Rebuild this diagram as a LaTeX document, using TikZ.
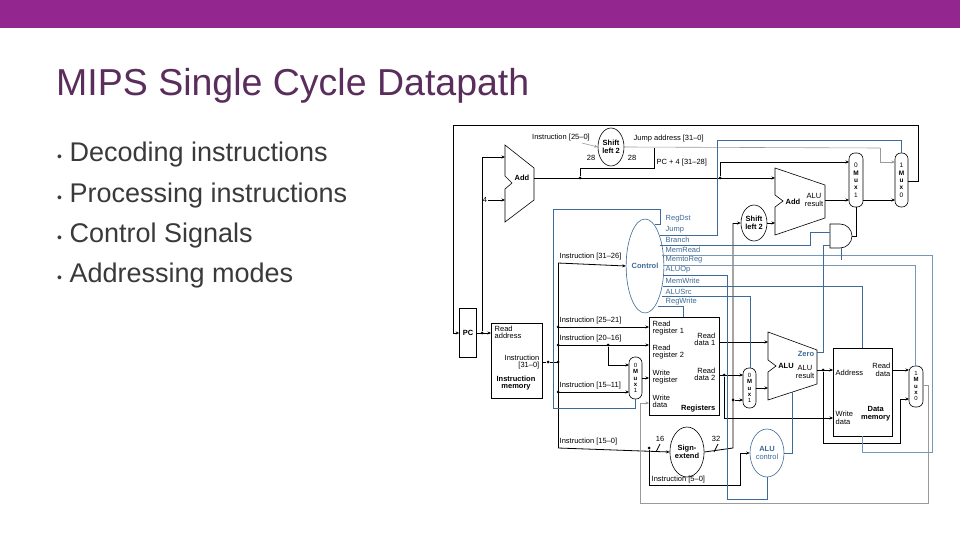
\documentclass[tikz,border=0pt]{standalone}
\usepackage{fontspec}
\setmainfont{Liberation Sans}[Ligatures=TeX]
\newfontfamily\dfont{Liberation Sans}[Ligatures=TeX]
\usetikzlibrary{arrows.meta,shapes.geometric}
\definecolor{barc}{HTML}{93278F}
\definecolor{ttl}{HTML}{5A2D5C}
\definecolor{bul}{HTML}{3A3A3A}
\definecolor{ctl}{HTML}{3E6A98}
\definecolor{gw}{HTML}{9A9A9A}
\tikzset{
 wire/.style={draw=black,line width=0.8pt},
 cwire/.style={draw=ctl,line width=0.9pt},
 gwire/.style={draw=gw,line width=0.6pt},
 arr/.style={-{Stealth[length=3.5pt,width=3pt]}},
 lbl/.style={font=\dfont\fontsize{7.5}{7.8}\selectfont,inner sep=0.5pt,align=left},
 blbl/.style={lbl,font=\dfont\bfseries\fontsize{7.5}{7.8}\selectfont},
 clbl/.style={lbl,text=ctl,anchor=west},
 blk/.style={draw,line width=0.6pt},
 dot/.style={circle,fill,inner sep=0pt,minimum size=3pt},
 bullet/.style={anchor=base west,inner sep=0,text=bul,font=\fontsize{27}{30}\selectfont},
 muxbox/.style={draw,line width=0.6pt,rounded corners=6pt},
 elli/.style={ellipse,draw,line width=0.6pt,inner sep=0pt,align=center,font=\dfont\bfseries\fontsize{7.5}{8.2}\selectfont}
}
\begin{document}
\begin{tikzpicture}[x=1pt,y=-1pt]
\useasboundingbox (0,0) rectangle (960,540);
\fill[white] (0,0) rectangle (960,540);
\fill[barc] (0,0) rectangle (960,28);
\node[anchor=base west,inner sep=0,text=ttl,font=\fontsize{37.5}{42}\selectfont] (title) at (56,96) {MIPS Single Cycle Datapath};
\node[bullet] (b1) at (57,162) {{\fontsize{14}{16}\selectfont\textbullet} Decoding instructions};
\node[bullet] (b2) at (57,202) {{\fontsize{14}{16}\selectfont\textbullet} Processing instructions};
\node[bullet] (b3) at (57,242) {{\fontsize{14}{16}\selectfont\textbullet} Control Signals};
\node[bullet] (b4) at (57,282) {{\fontsize{14}{16}\selectfont\textbullet} Addressing modes};

% ---------- blocks
\node[blk,minimum width=16pt,minimum height=49pt,font=\dfont\bfseries\fontsize{7.5}{8}\selectfont] (pc) at (468,333) {PC};
\draw[blk] (491,323) rectangle (542,398);
\node[lbl,anchor=north west] (imra) at (494,325) {Read\\address};
\node[lbl,anchor=north east,align=right] (imi) at (540,354) {Instruction\\{[31–0]}};
\node[blbl,anchor=north,align=center] (imm) at (516,375) {Instruction\\memory};

\draw[blk] (649,317) rectangle (719,415);
\node[lbl,anchor=north west] (rr1) at (652,320) {Read\\register 1};
\node[lbl,anchor=north west] (rr2) at (652,344) {Read\\register 2};
\node[lbl,anchor=north west] (wr) at (652,369) {Write\\register};
\node[lbl,anchor=north west] (wd) at (652,394) {Write\\data};
\node[lbl,anchor=north east,align=right] (rd1) at (716,332) {Read\\data 1};
\node[lbl,anchor=north east,align=right] (rd2) at (716,367) {Read\\data 2};
\node[blbl,anchor=south east] (regs) at (716,413) {Registers};

\draw[blk] (833,348) rectangle (892,436);
\node[lbl,anchor=west] (dma) at (835,373) {Address};
\node[lbl,anchor=east,align=right] (dmr) at (891,370) {Read\\data};
\node[lbl,anchor=west] (dmw) at (835,418) {Write\\data};
\node[blbl,anchor=east,align=center] (dmm) at (891,414) {Data\\memory};

% ALU shapes
\draw[blk] (505,145) -- (534,168) -- (534,200) -- (505,222) -- (505,189) -- (512,183) -- (505,176) -- cycle;
\node[blbl] (add1) at (522,178) {Add};
\node[lbl] (four) at (485,200) {4};
\draw[blk] (775,168) -- (825,185) -- (825,218) -- (775,235) -- (775,207) -- (783,201) -- (775,195) -- cycle;
\node[blbl] (add2) at (793,202) {Add};
\node[lbl,align=center] (add2r) at (814,200) {ALU\\result};
\draw[blk] (768,332) -- (817,350) -- (817,384) -- (768,400) -- (768,372) -- (776,366) -- (768,360) -- cycle;
\node[blbl] (alu) at (786,366) {ALU};
\node[lbl,align=center] (alur) at (805,372) {ALU\\result};
\node[blbl,text=ctl] (zero) at (806,354) {Zero};

% muxes
\draw[muxbox] (849,153) rectangle (863,207);
\node[lbl,align=center,font=\dfont\bfseries\fontsize{6.5}{7}\selectfont] (m1) at (856,180) {\mdseries 0\\[1pt]M\\u\\x\\[1pt]\mdseries 1};
\draw[muxbox] (895,153) rectangle (908,207);
\node[lbl,align=center,font=\dfont\bfseries\fontsize{6.5}{7}\selectfont] (m2) at (901.5,180) {\mdseries 1\\[1pt]M\\u\\x\\[1pt]\mdseries 0};
\draw[muxbox] (629,357) rectangle (642,399);
\node[lbl,align=center,font=\dfont\bfseries\fontsize{6}{6.2}\selectfont] (m3) at (635.5,378) {\mdseries 0\\M\\u\\x\\\mdseries 1};
\draw[muxbox] (743,368) rectangle (756,408);
\node[lbl,align=center,font=\dfont\bfseries\fontsize{6}{6.2}\selectfont] (m4) at (749.5,388) {\mdseries 0\\M\\u\\x\\\mdseries 1};
\draw[muxbox] (909,366) rectangle (923,407);
\node[lbl,align=center,font=\dfont\bfseries\fontsize{6}{6.2}\selectfont] (m5) at (916,386) {\mdseries 1\\M\\u\\x\\\mdseries 0};

% ellipses
\node[elli,minimum width=26pt,minimum height=38pt] (sl1) at (611,147) {Shift\\left 2};
\node[elli,minimum width=26pt,minimum height=36pt] (sl2) at (754,223) {Shift\\left 2};
\node[elli,minimum width=30pt,minimum height=50pt] (se) at (687,452) {Sign-\\extend};
\node[elli,draw=ctl,text=ctl,minimum width=34pt,minimum height=48pt] (aluc) at (767,453) {ALU\\\mdseries control};
\node[elli,draw=ctl,text=ctl,minimum width=35pt,minimum height=94pt] (ctrl) at (645,266) {Control};

% AND gate
\draw[blk] (830,224) -- (840,224) arc[start angle=90,end angle=-90,radius=12pt] -- (830,248) -- cycle;

% ---------- black wires
\draw[wire,arr] (pc.east) -- (491,333);
\node[dot] (d1) at (482,333) {};
\draw[wire,arr] (d1) -- (482,157) -- (505,157);
\draw[wire,arr] (four.east) -- (505,200);
\draw[wire,arr] (534,178) -- (775,178);
\node[dot] (d2) at (580,178) {};
\draw[wire] (d2) -- (580,168) -- (654,168) -- (654,148);
\node[dot] (d3) at (720,178) {};
\draw[wire,arr] (d3) -- (720,162) -- (849,162);
\node[lbl,anchor=south west] (pc4) at (656,167) {PC + 4 [31–28]};
\draw[wire,arr] (825,200) -- (849,200);
\draw[wire,arr] (863,200) -- (895,200);
\draw[wire,arr] (908,181) -- (918,181) -- (918,125) -- (453,125) -- (453,333) -- (pc.west);
% instruction bus
\node[dot] (d4) at (548,362) {};
\draw[wire] (542,362) -- (d4) -- (558,362);
\draw[wire] (558,263) -- (558,448);
\draw[wire,arr] (558,263) -- (ctrl.west);
\node[lbl,anchor=south west] (i3126) at (559,261) {Instruction [31–26]};
\draw[wire,arr] (558,327) -- (649,327);
\node[lbl,anchor=south west] (i2521) at (559,325) {Instruction [25–21]};
\draw[wire,arr] (558,345) -- (649,345);
\node[lbl,anchor=south west] (i2016) at (559,343) {Instruction [20–16]};
\node[dot] (d5) at (608,345) {};
\draw[wire,arr] (d5) -- (608,365) -- (629,365);
\draw[wire,arr] (558,392) -- (629,392);
\node[lbl,anchor=south west] (i1511) at (559,390) {Instruction [15–11]};
\draw[wire,arr] (558,448) -- (se.west);
\node[lbl,anchor=south west] (i150) at (559,446) {Instruction [15–0]};
\foreach \yy in {327,345,362,392} \node[dot] at (558,\yy) {};
\node[dot] (d6) at (649,448) {};
\draw[wire,arr] (d6) -- (649,485) -- (740,485) -- (740,453) -- (aluc.west);
\node[lbl,anchor=south west] (i50) at (651,484) {Instruction [5–0]};
\node[lbl] (n16) at (660,439) {16};
\node[lbl] (n32) at (716,439) {32};
\draw[wire] (656,452) -- (660,444);
\draw[wire] (714,452) -- (718,444);
\draw[wire,arr] (642,378) -- (649,378);
\draw[wire,arr] (719,342) -- (768,342);
\node[dot] (d7) at (724,375) {};
\draw[wire,arr] (719,375) -- (743,375);
\draw[wire,arr] (d7) -- (724,418) -- (833,418);
\draw[wire] (se.east) -- (733,448) -- (733,223);
\draw[wire,arr] (733,223) -- (sl2.west);
\node[dot] (d8) at (733,400) {};
\draw[wire,arr] (d8) -- (743,400);
\draw[wire,arr] (sl2.east) -- (775,223);
\draw[wire,arr] (756,388) -- (768,388);
\node[dot] (d9) at (823,370) {};
\draw[wire,arr] (817,370) -- (833,370);
\draw[wire,arr] (d9) -- (823,443) -- (900,443) -- (900,399) -- (909,399);
\draw[wire,arr] (892,370) -- (909,370);
\draw[gwire,arr] (923,385) -- (928,385) -- (928,503) -- (640,503) -- (640,403) -- (649,403);
% jump address (gray)
\node[lbl,anchor=south] (i250) at (561,142) {Instruction [25–0]};
\draw[gwire,arr] (582,143) -- (sl1.west);
\draw[gwire] (sl1.east) -- (880,148);
\draw[gwire,arr] (880,148) -- (880,162) -- (895,162);
\node[lbl,anchor=south west] (ja) at (633,143) {Jump address [31–0]};
\node[lbl] (n28a) at (591,158) {28};
\node[lbl] (n28b) at (632,158) {28};
\draw[wire] (852,236) -- (856,236) -- (856,207);

% ---------- control wires
\node[clbl] (cRegDst) at (665,219) {RegDst};
\node[clbl] (cJump) at (665,230) {Jump};
\node[clbl] (cBranch) at (665,240) {Branch};
\node[clbl] (cMemRead) at (665,250) {MemRead};
\node[clbl] (cMemtoReg) at (665,260) {MemtoReg};
\node[clbl] (cALUOp) at (665,270) {ALUOp};
\node[clbl] (cMemWrite) at (665,281) {MemWrite};
\node[clbl] (cALUSrc) at (665,292) {ALUSrc};
\node[clbl] (cRegWrite) at (665,302) {RegWrite};
\draw[cwire] (655,224) -- (660,224) -- (660,209) -- (553,209) -- (553,408) -- (635,408) -- (635,399);
\draw[cwire] (660,235) -- (717,235) -- (717,140) -- (901,140) -- (901,153);
\draw[cwire] (660,245) -- (810,245) -- (810,232) -- (830,232);
\draw[cwire,draw=ctl!70] (662,255) -- (932,255) -- (932,452) -- (862,452) -- (862,436);
\draw[cwire,draw=ctl!70] (663,265) -- (915,265) -- (915,366);
\draw[cwire] (663,275) -- (727,275) -- (727,499) -- (767,499) -- (aluc.south);
\draw[cwire] (663,286) -- (862,286) -- (862,348);
\draw[cwire] (662,296) -- (750,296) -- (750,368);
\draw[cwire] (658,306) -- (683,306) -- (683,317);
\draw[cwire] (aluc.east) -- (792,453) -- (792,392);
\draw[cwire] (817,352) -- (823,352) -- (823,245) -- (830,245);
\draw[cwire] (841,248) -- (841,260);
\end{tikzpicture}
\end{document}
